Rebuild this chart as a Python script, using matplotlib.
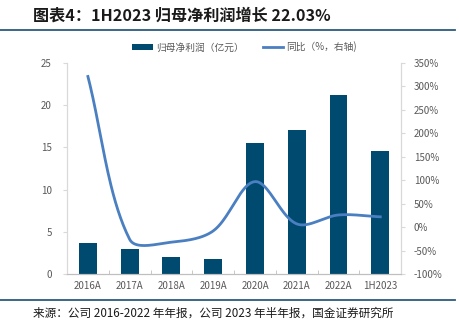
import numpy as np
import matplotlib.pyplot as plt
from matplotlib.lines import Line2D

plt.rcParams['font.family'] = ['Noto Sans CJK SC', 'DejaVu Sans']

# net profit attributable to parent (100m CNY) and YoY growth (%)
years = ['2016A', '2017A', '2018A', '2019A', '2020A', '2021A', '2022A', '1H2023']
profit = [3.64, 2.97, 2.0, 1.8, 15.5, 17.0, 21.2, 14.6]
yoy = [321, -26, -32, -8, 97, 7, 26, 22.03]

left_ticks = [0, 5, 10, 15, 20, 25]
right_ticks = [-100, -50, 0, 50, 100, 150, 200, 250, 300, 350]

bar_color = '#004a70'
line_color = '#4a7fc1'
grey = '#595959'


def smooth(x, y, sx=41.75, sy=0.468, n=40):
    # bezier smoothing through every point; handles scaled by the
    # on-screen length of the neighbouring segments so steep drops don't overshoot
    p = np.column_stack([np.asarray(x, float) * sx, np.asarray(y, float) * sy])
    m = len(p)
    d = np.linalg.norm(np.diff(p, axis=0), axis=1)
    t = np.linspace(0, 1, n)[:, None]
    pts = []
    for i in range(m - 1):
        p1, p2 = p[i], p[i + 1]
        if i > 0:
            c1 = p1 + (p2 - p[i - 1]) * d[i] / (d[i - 1] + d[i]) / 3
        else:
            c1 = p1 + (p2 - p1) / 3
        if i < m - 2:
            c2 = p2 - (p[i + 2] - p1) * d[i] / (d[i] + d[i + 1]) / 3
        else:
            c2 = p2 - (p2 - p1) / 3
        seg = ((1 - t) ** 3 * p1 + 3 * (1 - t) ** 2 * t * c1
               + 3 * (1 - t) * t ** 2 * c2 + t ** 3 * p2)
        pts.append(seg)
    pts = np.vstack(pts)
    return pts[:, 0] / sx, pts[:, 1] / sy


fig = plt.figure(figsize=(4.59, 3.24), dpi=100)
ax = fig.add_axes([0.146, 0.154, 0.728, 0.652])
ax2 = ax.twinx()

x = np.arange(len(years))
bars = ax.bar(x, profit, width=0.43, color=bar_color, label='归母净利润（亿元）', zorder=2)
cx, cy = smooth(x, yoy)
line, = ax2.plot(cx, cy, color=line_color, lw=2, label='同比（%，右轴)', zorder=3)

ax.set_xlim(-0.5, len(years) - 0.5)
ax.set_ylim(0, 25)
ax.set_yticks(left_ticks)
ax2.set_ylim(-100, 350)
ax2.set_yticks(right_ticks)
ax2.set_yticklabels([f'{v}%' for v in right_ticks])

ax.set_xticks(x)
ax.set_xticklabels(years)
ax.set_xticks(np.arange(-0.5, len(years), 1), minor=True)
ax.tick_params(axis='x', which='major', length=0, labelsize=7, colors=grey, pad=5)
ax.tick_params(axis='x', which='minor', length=3, direction='in', color='#bfbfbf')
ax.tick_params(axis='y', labelsize=7, colors=grey, length=3, color='#d9d9d9', pad=8)
ax2.tick_params(axis='y', labelsize=7, colors=grey, length=3, color='#d9d9d9', pad=6)

for a in (ax, ax2):
    a.spines['top'].set_visible(False)
    a.spines['left'].set_color('#d9d9d9')
    a.spines['right'].set_color('#d9d9d9')
    a.spines['bottom'].set_color('#bfbfbf')

ax.set_zorder(ax2.get_zorder() - 1)
ax.patch.set_visible(False)

fig.legend(handles=[bars, line], loc='center', bbox_to_anchor=(0.533, 0.855),
           ncol=2, frameon=False, fontsize=7, labelcolor=grey,
           handlelength=2.1, handleheight=0.5, columnspacing=2.0, handletextpad=0.3)

fig.text(0.072, 0.953, '图表4：1H2023 归母净利润增长 22.03%', fontsize=11.6,
         fontweight='bold', style='italic', va='center', color='#1a1a1a')
fig.add_artist(Line2D([0, 0.992], [0.907, 0.907], color='#2b5b7e', lw=1.3))
fig.add_artist(Line2D([0, 0.992], [0.074, 0.074], color='#2b5b7e', lw=1.3))
fig.text(0.072, 0.034, '来源：公司 2016-2022 年年报，公司 2023 年半年报，国金证券研究所',
         fontsize=8.4, va='center', color='#1a1a1a')

fig.savefig('out.png', dpi=100)
